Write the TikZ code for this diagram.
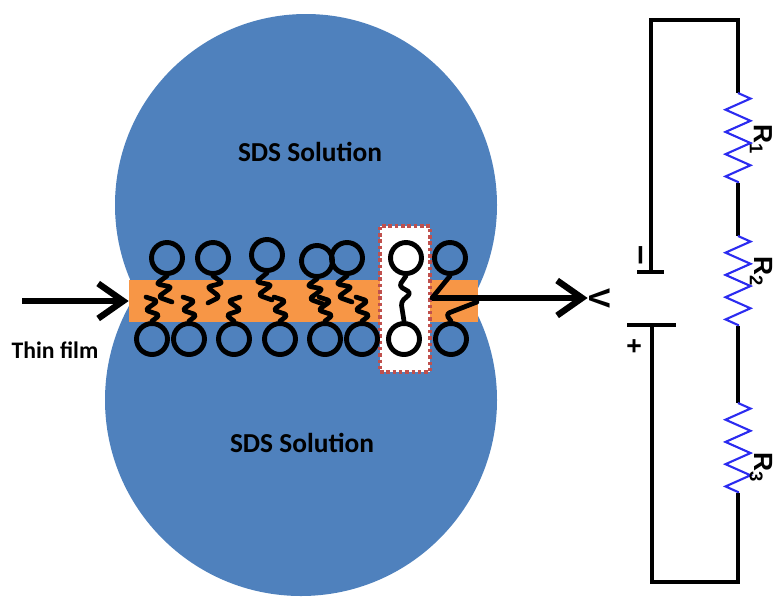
\documentclass[tikz,border=0pt]{standalone}
\usepackage{fontspec}
\setmainfont{Carlito}
\newfontfamily\circuito{Liberation Sans}
\usetikzlibrary{arrows.meta, decorations.pathmorphing}

\definecolor{blusds}{HTML}{4F81BD}
\definecolor{arancio}{HTML}{F79646}
\definecolor{rossobox}{HTML}{C0504D}
\definecolor{resist}{HTML}{2B2BF0}

\begin{document}
\begin{tikzpicture}[x=0.02cm, y=-0.02cm]
				% Stili per teste, code, frecce e circuito
				\tikzset{
					testa/.style={circle, draw, line width=2.8pt, minimum size=0.62cm, inner sep=0pt},
					coda/.style={line width=2.7pt, line join=round, line cap=round, rounded corners=2pt},
					freccia/.style={line width=3.6pt, -{Straight Barb[length=5mm, width=7mm]}},
					filo/.style={line width=1.8pt},
					resistenza/.style={resist, line width=1.2pt, decorate, decoration={zigzag, amplitude=0.25cm, segment length=0.445cm}},
					scritta/.style={font=\fontsize{15.6}{18}\selectfont\bfseries, text=black},
					simbolo/.style={font=\circuito\bfseries\fontsize{15}{17}\selectfont, rotate=-90, inner sep=1pt}
				}
				\useasboundingbox (0,0) rectangle (774,596);
				
				% Soluzione SDS (due cerchi sovrapposti)
				\fill[blusds] (306,205) circle[radius=191];
				\fill[blusds] (301,400) circle[radius=196];
				\node[scritta] (sopra) at (310,152) {SDS Solution};
				\node[scritta] (sotto) at (302,443) {SDS Solution};
				
				% Film sottile e riquadro tratteggiato
				\node[fill=arancio, minimum width=6.98cm, minimum height=0.84cm, inner sep=0pt] (film) at (303.5,301) {};
				\node[draw=rossobox, fill=white, line width=2.2pt, dash pattern=on 2pt off 1.6pt,
					minimum width=1cm, minimum height=2.92cm, inner sep=0pt] (riquadro) at (405,299) {};
				
				% Teste polari, fila in alto
				\node[testa] (a1) at (167,258) {};
				\node[testa] (a2) at (213,258) {};
				\node[testa] (a3) at (267,255) {};
				\node[testa] (a4) at (317,261) {};
				\node[testa] (a5) at (347,258) {};
				\node[testa] (a6) at (406,258) {};
				\node[testa] (a7) at (450,258) {};
				
				% Teste polari, fila in basso
				\node[testa] (b1) at (152,339) {};
				\node[testa] (b2) at (189,339) {};
				\node[testa] (b3) at (234,339) {};
				\node[testa] (b4) at (280,339) {};
				\node[testa] (b5) at (325,339) {};
				\node[testa] (b6) at (362,339) {};
				\node[testa] (b7) at (404,339) {};
				\node[testa] (b8) at (451,339) {};
				
				% Code idrofobiche
				\draw[coda] (a1.south) -- ++(-11,8) -- ++(16,3) -- ++(-14,10) -- ++(14,5);
				\draw[coda] (a2.south) -- ++(10,7) -- ++(-16,4) -- ++(13,10) -- ++(-12,6);
				\draw[coda] (a3.south) -- ++(-11,9) -- ++(16,3) -- ++(-14,10) -- ++(14,5);
				\draw[coda] (a4.south) -- ++(-10,7) -- ++(16,3) -- ++(-14,10) -- ++(14,5);
				\draw[coda] (a5.south) -- ++(-11,8) -- ++(16,3) -- ++(-14,10) -- ++(14,5);
				\draw[coda] (b1.north) -- ++(8,-6) -- ++(-15,-5) -- ++(13,-9) -- ++(-12,-4);
				\draw[coda] (b2.north) -- ++(8,-6) -- ++(-15,-5) -- ++(13,-9) -- ++(-12,-4);
				\draw[coda] (b3.north) -- ++(-8,-6) -- ++(15,-5) -- ++(-13,-9) -- ++(12,-4);
				\draw[coda] (b4.north) -- ++(8,-6) -- ++(-15,-5) -- ++(13,-9) -- ++(-12,-4);
				\draw[coda] (b5.north) -- ++(8,-6) -- ++(-15,-5) -- ++(13,-9) -- ++(-12,-4);
				\draw[coda] (b6.north) -- ++(8,-6) -- ++(-15,-5) -- ++(13,-9) -- ++(-12,-4);
				\draw[coda] (a6.south) -- ++(-7,10) -- ++(12,7) -- ++(-10,9) -- (b7.north);
				
				% Freccia verso il film
				\coordinate (partenza) at (22,301);
				\draw[freccia] (partenza) -- (film.west);
				\node[font=\fontsize{13.5}{16}\selectfont\bfseries] (etichetta) at (55,350) {Thin film};
				
				% Ultima coppia collegata alla freccia di misura
				\coordinate (inizio) at (432,298);
				\draw[coda] (a7.south) -- (inizio);
				\draw[coda] (b8.north) -- ++(-5,-7) -- (477,302);
				\node[simbolo, font=\circuito\bfseries\fontsize{17}{19}\selectfont] (tensione) at (600,298) {V};
				\draw[freccia] (inizio) -- (tensione.south);
				
				% Circuito: angoli, resistenze e batteria
				\coordinate (c1) at (651,20);
				\coordinate (c2) at (738,20);
				\coordinate (c3) at (738,582);
				\coordinate (c4) at (652,582);
				\coordinate (r1a) at (738,93);
				\coordinate (r1b) at (738,183);
				\coordinate (r2a) at (738,236);
				\coordinate (r2b) at (738,326);
				\coordinate (r3a) at (738,403);
				\coordinate (r3b) at (738,493);
				\coordinate (neg) at (651,272);
				\coordinate (pos) at (652,325);
				\coordinate (n1) at (637,272);
				\coordinate (n2) at (664,272);
				\coordinate (p1) at (627,325);
				\coordinate (p2) at (676,325);
				
				\draw[filo] (neg) -- (c1) -- (c2) -- (r1a);
				\draw[filo] (r1b) -- (r2a);
				\draw[filo] (r2b) -- (r3a);
				\draw[filo] (r3b) -- (c3) -- (c4) -- (pos);
				\draw[filo] (n1) -- (n2);
				\draw[filo] (p1) -- (p2);
				\draw[resistenza] (r1a) -- (r1b);
				\draw[resistenza] (r2a) -- (r2b);
				\draw[resistenza] (r3a) -- (r3b);
				
				% Etichette del circuito
				\node[simbolo, font=\circuito\bfseries\fontsize{20}{22}\selectfont] (meno) at (637,255) {–};
				\node[simbolo] (piu) at (633,346) {+};
				\node[simbolo] (erre1) at (761,140) {R\textsubscript{1}};
				\node[simbolo] (erre2) at (761,272) {R\textsubscript{2}};
				\node[simbolo] (erre3) at (761,468) {R\textsubscript{3}};
			\end{tikzpicture}
\end{document}
